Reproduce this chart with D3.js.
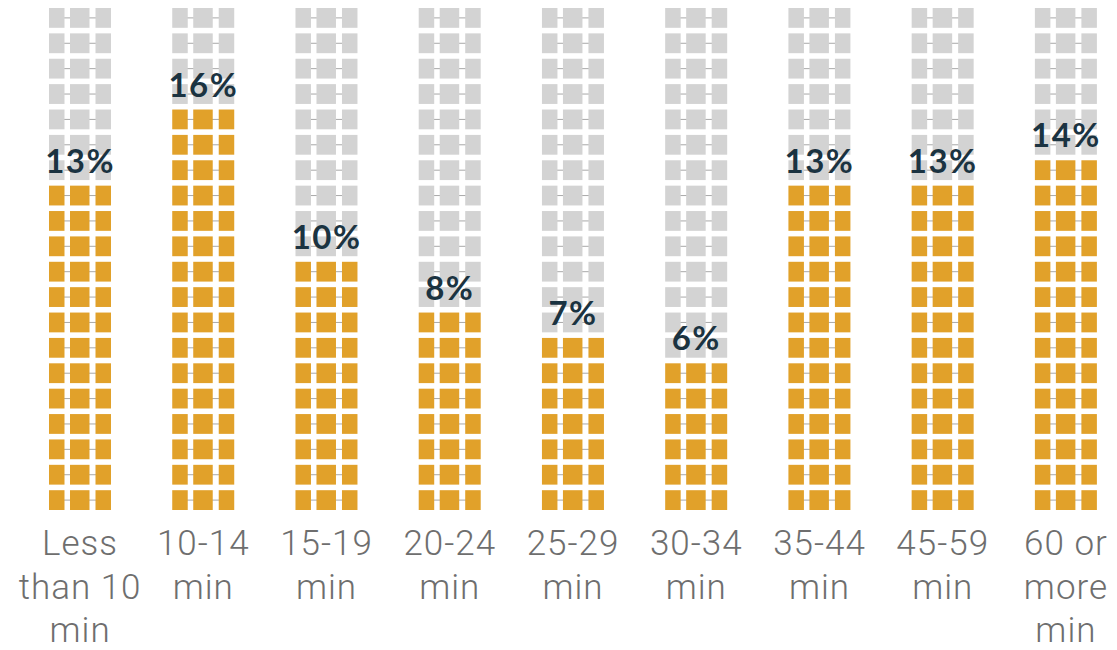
<!DOCTYPE html>
<html>
<head>
<meta charset="utf-8">
<script src="https://cdn.jsdelivr.net/npm/d3@7"></script>
<style>
  html, body { margin: 0; padding: 0; background: #ffffff; }
  svg { display: block; }
</style>
</head>
<body>
<svg id="chart" width="1117" height="650"></svg>
<script>
// ---- data ----
const categories = ["Less than 10 min", "10-14 min", "15-19 min", "20-24 min", "25-29 min", "30-34 min", "35-44 min", "45-59 min", "60 or more min"];
const categoryLines = [["Less", "than 10", "min"], ["10-14", "min"], ["15-19", "min"], ["20-24", "min"], ["25-29", "min"], ["30-34", "min"], ["35-44", "min"], ["45-59", "min"], ["60 or", "more", "min"]];
const values = [13, 16, 10, 8, 7, 6, 13, 13, 14];
const valueLabels = ["13%", "16%", "10%", "8%", "7%", "6%", "13%", "13%", "14%"];
const rowCount = 20;   // each row = 1%
const subCells = [0, 1, 2];

// ---- layout ----
const svg = d3.select("#chart");

const x = d3.scaleBand().domain(categories).range([49, 1097]).paddingInner(0.496).paddingOuter(0);
const y = d3.scaleBand().domain(d3.range(rowCount)).range([510, 8]).paddingInner(0.22).paddingOuter(0);
// sub-cell layout within a column
const subX = d3.scaleOrdinal().domain(subCells).range([0, 21, 46.5]);
const subW = d3.scaleOrdinal().domain(subCells).range([15.5, 19.5, 15.5]);

const orange = "#E1A12A";
const grey = "#D3D3D3";
const lineColor = "#A8A8A8";

const cols = svg.selectAll("g.col")
  .data(categories.map((c, i) => ({ cat: c, value: values[i], label: valueLabels[i], lines: categoryLines[i] })))
  .join("g")
  .attr("class", "col")
  .attr("transform", d => `translate(${x(d.cat)},0)`);

const rows = cols.selectAll("g.row")
  .data(d => d3.range(rowCount).map(r => ({ r, filled: r < d.value })))
  .join("g")
  .attr("class", "row");

// connector line through the middle of each row
rows.append("line")
  .attr("x1", 4)
  .attr("x2", x.bandwidth() - 4)
  .attr("y1", d => y(d.r) + y.bandwidth() / 2)
  .attr("y2", d => y(d.r) + y.bandwidth() / 2)
  .attr("stroke", lineColor)
  .attr("stroke-width", 1);

rows.selectAll("rect")
  .data(d => subCells.map(s => ({ s, r: d.r, filled: d.filled })))
  .join("rect")
  .attr("x", d => subX(d.s))
  .attr("y", d => y(d.r))
  .attr("width", d => subW(d.s))
  .attr("height", y.bandwidth())
  .attr("fill", d => d.filled ? orange : grey);

// value labels
cols.append("text")
  .attr("x", x.bandwidth() / 2)
  .attr("y", d => y(d.value - 1) - 13)
  .attr("text-anchor", "middle")
  .attr("font-family", "Lato, 'Open Sans', sans-serif")
  .attr("font-weight", 700)
  .attr("font-size", 33)
  .attr("letter-spacing", 1.5)
  .attr("fill", "#1B3341")
  .text(d => d.label);

// category labels
cols.append("text")
  .attr("text-anchor", "middle")
  .attr("font-family", "Roboto, 'Open Sans', sans-serif")
  .attr("font-weight", 300)
  .attr("font-size", 35)
  .attr("letter-spacing", 1)
  .attr("fill", "#6E6E6E")
  .selectAll("tspan")
  .data(d => d.lines)
  .join("tspan")
  .attr("x", x.bandwidth() / 2)
  .attr("y", (d, i) => 555 + i * 43.5)
  .text(d => d);
</script>
</body>
</html>
